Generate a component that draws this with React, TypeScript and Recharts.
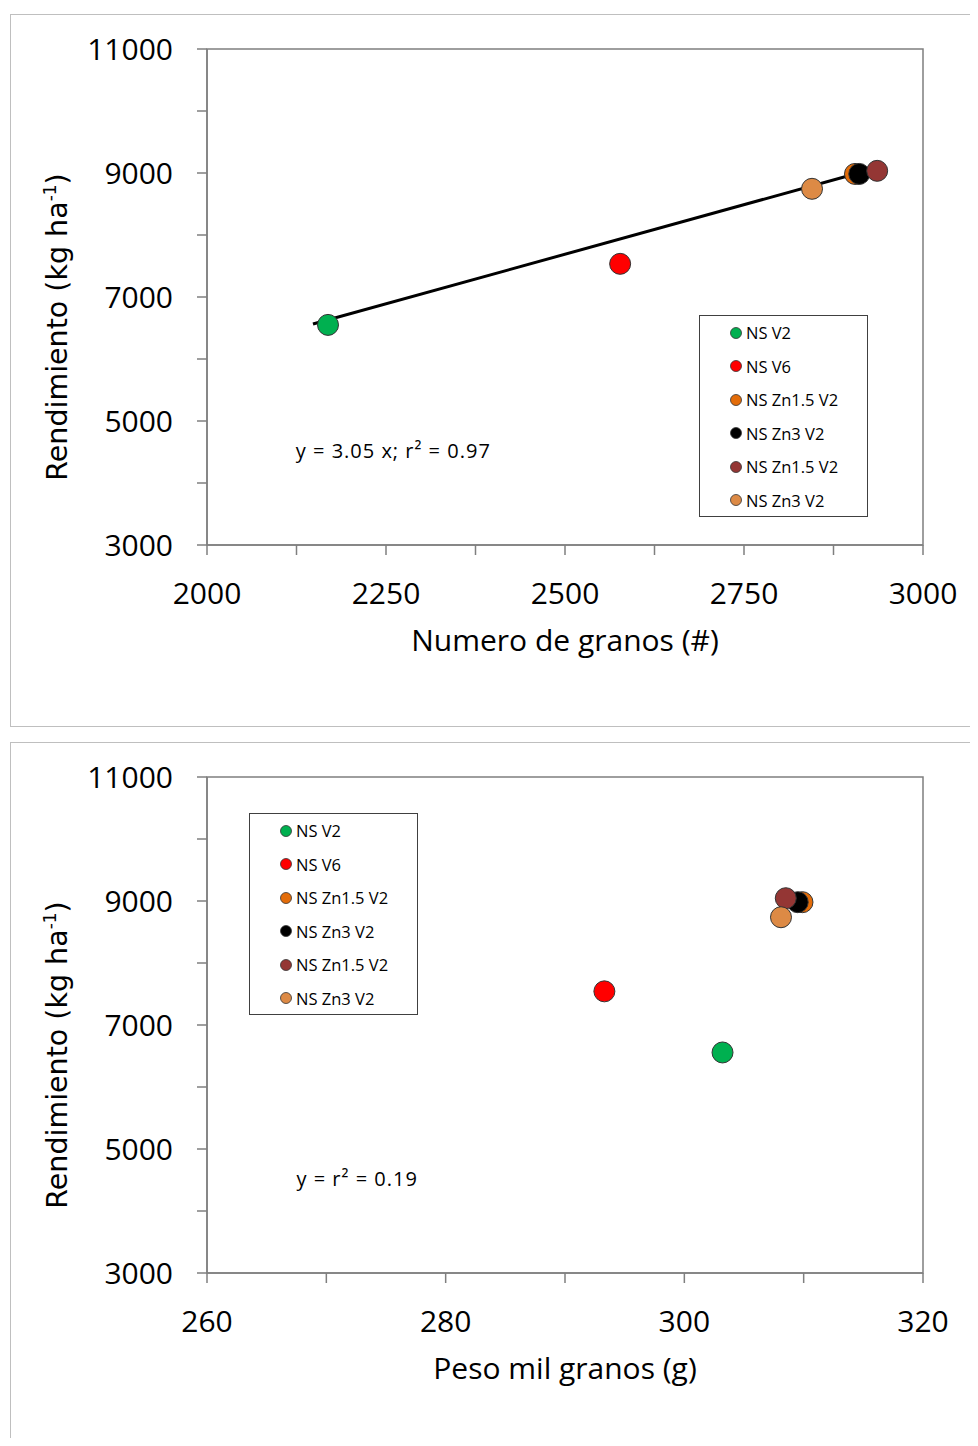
import React from 'react';
import {
    ScatterChart,
    Scatter,
    XAxis,
    YAxis,
    ReferenceLine,
    ReferenceArea,
    ReferenceDot,
    Legend
} from 'recharts';

// Treatments, in drawing order (later ones sit on top)
const treatments = ['NS V2', 'NS V6', 'NS Zn1.5 V2', 'NS Zn3 V2', 'NS Zn1.5 V2', 'NS Zn3 V2'];
const treatmentColors = ['#00b050', '#ff0000', '#e36c09', '#000000', '#943634', '#dd8a45'];

// Top panel: grain number vs yield
const grainNumber = [2169, 2577, 2905, 2911, 2936, 2845];
const yieldByNumber = [6550, 7535, 8985, 8985, 9035, 8745];

// Bottom panel: thousand grain weight vs yield
const grainWeight = [303.2, 293.3, 309.9, 309.5, 308.5, 308.1];
const yieldByWeight = [6557, 7543, 8981, 8981, 9045, 8738];

// Fitted line of the top panel
const trendX = [2148, 2915];
const trendY = [6565, 9016];

const yieldTicks = [3000, 4000, 5000, 6000, 7000, 8000, 9000, 10000, 11000];
const yieldLabels = [3000, 5000, 7000, 9000, 11000];
const numberTicks = [2000, 2125, 2250, 2375, 2500, 2625, 2750, 2875, 3000];
const numberLabels = [2000, 2250, 2500, 2750, 3000];
const weightTicks = [260, 270, 280, 290, 300, 310, 320];
const weightLabels = [260, 280, 300, 320];

const AXIS = '#7f7f7f';
const FONT = '"Open Sans", Calibri, sans-serif';

type PanelProps = {
    top: number;
    xValues: number[];
    yValues: number[];
    xDomain: [number, number];
    xTicks: number[];
    xLabels: number[];
    xTitle: string;
    legendLeft: number;
    legendTop: number;
    noteX: number;
    noteText: string;
    showTrend: boolean;
};

const Dot = (props: any) => (
    <circle cx={props.cx} cy={props.cy} r={10.5} fill={props.fill} stroke="#333" strokeWidth={1} />
);

// legend kept in series order (recharts would sort it by name)
const LegendBox = () => (
    <div
        style={{
            border: '1px solid #404040',
            background: '#fff',
            width: 169,
            height: 202,
            boxSizing: 'border-box',
            fontFamily: FONT,
            fontSize: 16.5
        }}
    >
        {treatments.map((name, i) => (
            <div key={i} style={{ display: 'flex', alignItems: 'center', height: 33.5, paddingLeft: 29 }}>
                <svg width={14} height={14} style={{ marginRight: 3 }}>
                    <circle cx={7} cy={7} r={5.5} fill={treatmentColors[i]} stroke="#333" strokeWidth={0.8} />
                </svg>
                <span style={{ color: '#000', whiteSpace: 'nowrap' }}>{name}</span>
            </div>
        ))}
    </div>
);

const Panel = ({
    top, xValues, yValues, xDomain, xTicks, xLabels, xTitle,
    legendLeft, legendTop, noteX, noteText, showTrend
}: PanelProps) => {
    const seriesData = treatments.map((_, i) => [{ x: xValues[i], y: yValues[i] }]);

    return (
        <div style={{ position: 'absolute', left: 0, top }}>
            <ScatterChart width={978} height={726} margin={{ top: 49, right: 55, left: 0, bottom: 71 }}>
                <ReferenceArea
                    x1={xDomain[0]}
                    x2={xDomain[1]}
                    y1={3000}
                    y2={11000}
                    fill="none"
                    stroke={AXIS}
                    strokeWidth={1.5}
                />
                <XAxis
                    type="number"
                    dataKey="x"
                    domain={xDomain}
                    ticks={xTicks}
                    interval={0}
                    height={110}
                    axisLine={{ stroke: AXIS, strokeWidth: 1.5 }}
                    tickLine={{ stroke: AXIS, strokeWidth: 1.5 }}
                    tickSize={10}
                    tickMargin={27}
                    tick={(p: any) =>
                        xLabels.includes(p.payload.value) ? (
                            <text x={p.x} y={p.y} dy="0.72em" textAnchor="middle" fontFamily={FONT} fontSize={30} fill="#000">
                                {p.payload.value}
                            </text>
                        ) : (
                            <g />
                        )
                    }
                    label={{
                        content: (lp: any) => (
                            <text
                                x={lp.viewBox.x + lp.viewBox.width / 2}
                                y={lp.viewBox.y + 106}
                                textAnchor="middle"
                                fontFamily={FONT}
                                fontSize={30}
                                fill="#000"
                            >
                                {xTitle}
                            </text>
                        )
                    }}
                />
                <YAxis
                    type="number"
                    dataKey="y"
                    domain={[3000, 11000]}
                    ticks={yieldTicks}
                    interval={0}
                    width={207}
                    axisLine={{ stroke: AXIS, strokeWidth: 1.5 }}
                    tickLine={{ stroke: AXIS, strokeWidth: 1.5 }}
                    tickSize={10}
                    tickMargin={24}
                    tick={(p: any) =>
                        yieldLabels.includes(p.payload.value) ? (
                            <text x={p.x} y={p.y} dy="0.36em" textAnchor="end" fontFamily={FONT} fontSize={30} fill="#000">
                                {p.payload.value}
                            </text>
                        ) : (
                            <g />
                        )
                    }
                    label={{
                        content: (lp: any) => {
                            const lx = lp.viewBox.x + 67;
                            const ly = lp.viewBox.y + lp.viewBox.height / 2 + 30;
                            return (
                                <text
                                    x={lx}
                                    y={ly}
                                    transform={`rotate(-90, ${lx}, ${ly})`}
                                    textAnchor="middle"
                                    fontFamily='"DejaVu Sans", Verdana, sans-serif'
                                    fontSize={28.5}
                                    fill="#000"
                                >
                                    Rendimiento (kg ha
                                    <tspan dy={-11} fontSize={17}>-1</tspan>
                                    <tspan dy={11}>)</tspan>
                                </text>
                            );
                        }
                    }}
                />
                {showTrend && (
                    <ReferenceLine
                        segment={[
                            { x: trendX[0], y: trendY[0] },
                            { x: trendX[1], y: trendY[1] }
                        ]}
                        stroke="#000"
                        strokeWidth={3}
                    />
                )}
                <ReferenceDot
                    x={noteX}
                    y={4400}
                    r={0}
                    shape={(p: any) => (
                        <text x={p.cx} y={p.cy} fontFamily={FONT} fontSize={20} letterSpacing={1} fill="#000">
                            {noteText}
                        </text>
                    )}
                />
                {treatments.map((name, i) => (
                    <Scatter
                        key={i}
                        name={name}
                        data={seriesData[i]}
                        fill={treatmentColors[i]}
                        shape={Dot}
                        legendType="circle"
                        isAnimationActive={false}
                    />
                ))}
                <Legend
                    layout="vertical"
                    align="center"
                    verticalAlign="middle"
                    content={LegendBox}
                    wrapperStyle={{ left: legendLeft, top: legendTop, width: 169, height: 202 }}
                />
            </ScatterChart>
        </div>
    );
};

const App = () => {
    return (
        <div
            style={{
                position: 'relative',
                width: 978,
                height: 1446,
                margin: -8,
                overflow: 'hidden',
                background: '#fff'
            }}
        >
            <div
                style={{
                    position: 'absolute',
                    left: 10,
                    top: 14,
                    width: 968,
                    height: 713,
                    borderTop: '1px solid #bfbfbf',
                    borderLeft: '1px solid #bfbfbf',
                    borderBottom: '1px solid #bfbfbf',
                    boxSizing: 'border-box'
                }}
            />
            <div
                style={{
                    position: 'absolute',
                    left: 10,
                    top: 742,
                    width: 968,
                    height: 704,
                    borderTop: '1px solid #bfbfbf',
                    borderLeft: '1px solid #bfbfbf',
                    boxSizing: 'border-box'
                }}
            />
            <Panel
                top={0}
                xValues={grainNumber}
                yValues={yieldByNumber}
                xDomain={[2000, 3000]}
                xTicks={numberTicks}
                xLabels={numberLabels}
                xTitle="Numero de granos (#)"
                legendLeft={699}
                legendTop={315}
                noteX={2124}
                noteText="y = 3.05 x; r² = 0.97"
                showTrend={true}
            />
            <Panel
                top={728}
                xValues={grainWeight}
                yValues={yieldByWeight}
                xDomain={[260, 320]}
                xTicks={weightTicks}
                xLabels={weightLabels}
                xTitle="Peso mil granos (g)"
                legendLeft={249}
                legendTop={85}
                noteX={267.5}
                noteText="y = r² = 0.19"
                showTrend={false}
            />
        </div>
    );
};

export default App;
